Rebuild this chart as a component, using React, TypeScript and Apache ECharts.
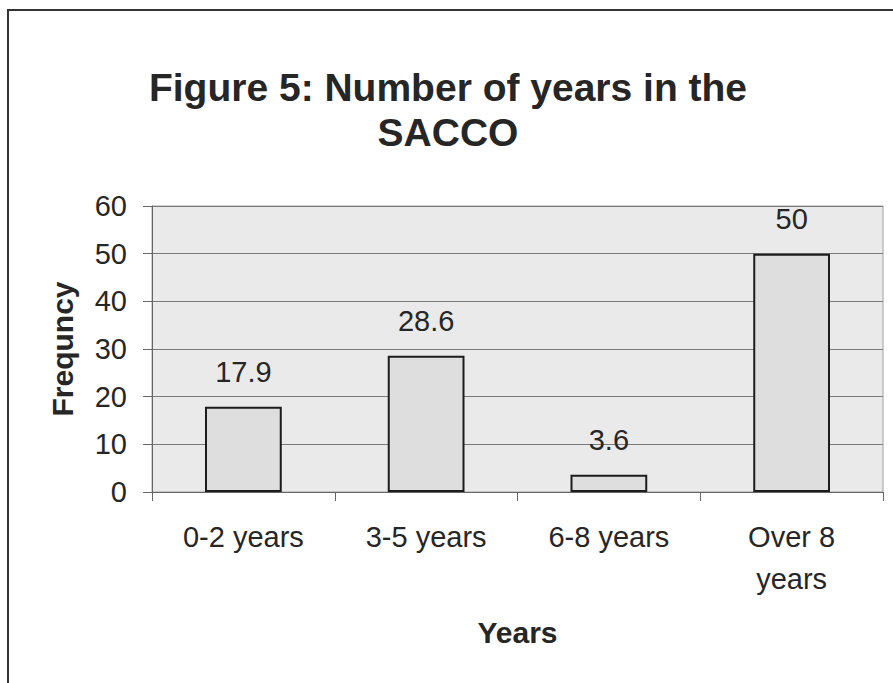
import React, { useEffect, useRef } from "react";
import * as echarts from "echarts";

const categories: string[] = ["0-2 years", "3-5 years", "6-8 years", "Over 8\nyears"];
const frequencies: number[] = [17.9, 28.6, 3.6, 50];
const yTicks = { min: 0, max: 60, interval: 10 };

const FONT = "Liberation Sans, Arial, Helvetica, sans-serif";

export default function App() {
  const ref = useRef<HTMLDivElement>(null);

  useEffect(() => {
    if (!ref.current) return;
    const chart = echarts.init(ref.current, undefined, { renderer: "svg" });
    chart.setOption({
      animation: false,
      backgroundColor: "#ffffff",
      textStyle: { fontFamily: FONT },
      graphic: [
        {
          type: "polyline",
          shape: { points: [[8, 683], [8, 10], [893, 10]] },
          style: { stroke: "#333", lineWidth: 2, fill: "none" },
          silent: true,
        },
        {
          type: "text",
          x: 448,
          y: 65,
          silent: true,
          style: {
            text: "Figure 5: Number of years in the\nSACCO",
            fontFamily: FONT,
            fontSize: 39,
            fontWeight: "bold",
            fill: "#262626",
            lineHeight: 45,
            align: "center",
            verticalAlign: "top",
          },
        },
      ],
      grid: {
        left: 152,
        right: 10,
        top: 206,
        bottom: 191,
        show: true,
        backgroundColor: "#eaeaea",
        borderColor: "#a0a0a0",
        borderWidth: 1,
      },
      xAxis: {
        type: "category",
        data: categories,
        name: "Years",
        nameLocation: "middle",
        nameGap: 125,
        nameTextStyle: { fontFamily: FONT, fontSize: 30, fontWeight: "bold", color: "#262626" },
        axisLine: { show: true, lineStyle: { color: "#666", width: 1 } },
        axisTick: { show: true, length: 9, lineStyle: { color: "#666" } },
        axisLabel: {
          fontFamily: FONT,
          fontSize: 29,
          color: "#262626",
          margin: 24,
          lineHeight: 42,
          interval: 0,
        },
        splitLine: { show: false },
      },
      yAxis: {
        type: "value",
        min: yTicks.min,
        max: yTicks.max,
        interval: yTicks.interval,
        name: "Frequncy",
        nameLocation: "middle",
        nameRotate: 90,
        nameGap: 75,
        nameTextStyle: { fontFamily: FONT, fontSize: 30, fontWeight: "bold", color: "#262626" },
        axisLine: { show: true, lineStyle: { color: "#666", width: 1 } },
        axisTick: { show: true, length: 9, lineStyle: { color: "#666" } },
        axisLabel: { fontFamily: FONT, fontSize: 29, color: "#262626", margin: 25 },
        splitLine: { show: true, lineStyle: { color: "#7a7a7a", width: 1 } },
      },
      series: [
        {
          type: "bar",
          data: frequencies,
          barWidth: "42%",
          itemStyle: { color: "#dedede", borderColor: "#1c1c1c", borderWidth: 2 },
          label: {
            show: true,
            position: "top",
            distance: 20,
            fontFamily: FONT,
            fontSize: 29,
            color: "#262626",
          },
        },
      ],
    });
    return () => chart.dispose();
  }, []);

  return (
    <div
      ref={ref}
      style={{ position: "absolute", left: 0, top: 0, width: 893, height: 683 }}
    />
  );
}
